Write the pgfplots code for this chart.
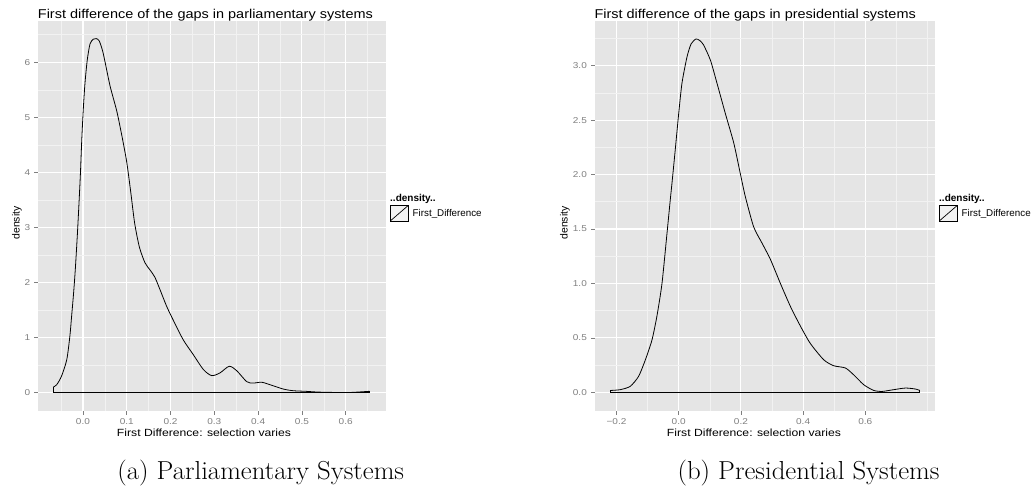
\documentclass[border=0pt]{standalone}
\usepackage{fontspec}
\newfontfamily\helv{Liberation Sans}
\usepackage{pgfplots}
\pgfplotsset{compat=1.18}
\definecolor{grey90}{HTML}{E5E5E5}
\definecolor{grey95}{HTML}{F2F2F2}
\definecolor{grey50}{HTML}{7F7F7F}
\pgfplotsset{gg/.style={
  scale only axis, anchor=south west,
  axis background/.style={fill=grey90},
  axis line style={draw=none},
  tick align=outside, tick pos=left,
  major tick length=4bp, minor tick length=0pt,
  tick style={grey50, line width=0.7bp},
  grid=both,
  major grid style={white, line width=1.1bp},
  minor grid style={grey95, line width=0.6bp},
  /pgf/number format/assume math mode=true,
  ticklabel style={font=\helv\fontsize{8.5bp}{10bp}\selectfont, text=grey50, xscale=1.18},
  legend style={at={(1,0.5066)}, anchor=west, xshift=4bp, draw=none, fill=none,
    inner sep=0pt, outer sep=0pt, font=\helv\fontsize{9.8bp}{11bp}\selectfont,
    nodes={inner sep=0pt}, /tikz/every odd column/.append style={column sep=4.3bp}},
  ggkey/.style={legend image code/.code={
    \draw[black,line width=0.7bp,fill=grey95] (0bp,-7.65bp) rectangle (17.7bp,7.65bp);
    \draw[black,line width=0.7bp] (0bp,-7.65bp)--(17.7bp,7.65bp);}},
}}
\begin{document}
\begin{tikzpicture}[x=1bp,y=1bp]
\useasboundingbox (0,0) rectangle (1034,492);
% ---------- left panel ----------
\begin{axis}[gg, at={(38.3bp,81.3bp)}, width=347.7bp, height=389.7bp,
  xmin=-0.102, xmax=0.692, ymin=-0.327, ymax=6.75,
  xtick={0,0.1,0.2,0.3,0.4,0.5,0.6}, xticklabels={0.0,0.1,0.2,0.3,0.4,0.5,0.6},
  ytick={0,1,2,3,4,5,6}, yticklabels={0,1,2,3,4,5,6},
  minor xtick={-0.05,0.05,0.15,0.25,0.35,0.45,0.55,0.65},
  minor ytick={0.5,1.5,2.5,3.5,4.5,5.5,6.5}]
\addplot[black, line width=0.8bp, smooth, tension=0.45, ggkey] coordinates {
(-0.068,0.10) (-0.060,0.145) (-0.049,0.30) (-0.037,0.60) (-0.030,1.02)
(-0.026,1.38) (-0.021,1.85) (-0.0171,2.29) (-0.0126,2.90) (-0.0087,3.50) (-0.0057,4.00)
(-0.0027,4.60) (0.0007,5.14) (0.0046,5.62) (0.0098,6.04) (0.016,6.33) (0.0235,6.42) (0.030,6.43)
(0.037,6.39) (0.046,6.17) (0.0616,5.58) (0.077,5.12) (0.088,4.70) (0.0997,4.20)
(0.109,3.65) (0.118,3.08) (0.129,2.64) (0.1416,2.36) (0.153,2.23) (0.164,2.10)
(0.176,1.87) (0.191,1.57) (0.206,1.32) (0.229,0.96) (0.252,0.69) (0.275,0.42)
(0.294,0.31) (0.313,0.36) (0.334,0.48) (0.351,0.40) (0.374,0.20) (0.389,0.175)
(0.408,0.19) (0.427,0.145) (0.457,0.067) (0.480,0.036) (0.511,0.024) (0.534,0.012)
(0.57,0.005) (0.61,0.004) (0.654,0.025)};
\addlegendentry{First\_Difference}
\addplot[black, line width=0.8bp, forget plot] coordinates {
(-0.068,0.10) (-0.068,0) (0.654,0) (0.654,0.025)};
\end{axis}
% ---------- right panel ----------
\begin{axis}[gg, at={(595bp,81.3bp)}, width=340bp, height=389.7bp,
  xmin=-0.269, xmax=0.824, ymin=-0.168, ymax=3.41,
  xtick={-0.2,0,0.2,0.4,0.6}, xticklabels={−0.2,0.0,0.2,0.4,0.6},
  ytick={0,0.5,1,1.5,2,2.5,3}, yticklabels={0.0,0.5,1.0,1.5,2.0,2.5,3.0},
  minor xtick={-0.1,0.1,0.3,0.5,0.7,0.8},
  minor ytick={0.25,0.75,1.25,1.75,2.25,2.75,3.25}]
\addplot[black, line width=0.8bp, smooth, tension=0.4, ggkey] coordinates {
(-0.218,0.018) (-0.188,0.025) (-0.156,0.055) (-0.129,0.147) (-0.107,0.30)
(-0.086,0.48) (-0.070,0.70) (-0.0537,1.00) (-0.0376,1.46) (-0.027,1.77)
(-0.0216,1.92) (-0.011,2.23) (0.0,2.56) (0.0106,2.84) (0.0267,3.08) (0.040,3.20)
(0.0556,3.245) (0.068,3.23) (0.080,3.19) (0.102,3.05) (0.123,2.84) (0.150,2.56)
(0.177,2.29) (0.198,2.01) (0.214,1.80) (0.241,1.52) (0.268,1.37)
(0.295,1.22) (0.327,1.00) (0.359,0.79) (0.391,0.61) (0.423,0.45) (0.466,0.30)
(0.498,0.245) (0.536,0.224) (0.563,0.16) (0.595,0.07) (0.627,0.018) (0.654,0.009)
(0.691,0.025) (0.729,0.04) (0.761,0.031) (0.775,0.018)};
\addlegendentry{First\_Difference}
\addplot[black, line width=0.8bp, forget plot] coordinates {
(-0.218,0.018) (-0.218,0) (0.775,0) (0.775,0.018)};
\end{axis}
% ---------- texts ----------
\node[anchor=base west, inner sep=0pt, xscale=1.13, font=\helv\fontsize{12.8bp}{15bp}\selectfont] at (37.7,473.7) {First difference of the gaps in parliamentary systems};
\node[anchor=base west, inner sep=0pt, xscale=1.13, font=\helv\fontsize{12.8bp}{15bp}\selectfont] at (594.3,473.7) {First difference of the gaps in presidential systems};
\node[anchor=base, inner sep=0pt, xscale=1.17, font=\helv\fontsize{10.4bp}{12bp}\selectfont] at (204,55.3) {First Difference: selection varies};
\node[anchor=base, inner sep=0pt, xscale=1.17, font=\helv\fontsize{10.4bp}{12bp}\selectfont] at (754,55.3) {First Difference: selection varies};
\node[rotate=90, inner sep=0pt, font=\helv\fontsize{10.4bp}{12bp}\selectfont] at (17,269) {density};
\node[rotate=90, inner sep=0pt, font=\helv\fontsize{10.4bp}{12bp}\selectfont] at (565,269) {density};
\node[anchor=base west, inner sep=0pt, font=\helv\bfseries\fontsize{10bp}{12bp}\selectfont] at (390,290.3) {..density..};
\node[anchor=base west, inner sep=0pt, font=\helv\bfseries\fontsize{10bp}{12bp}\selectfont] at (939,290.3) {..density..};
\node[anchor=base, inner sep=0pt, xscale=1.03, font=\fontsize{26bp}{30bp}\selectfont] at (260.7,12) {(a) Parliamentary Systems};
\node[anchor=base, inner sep=0pt, xscale=1.03, font=\fontsize{26bp}{30bp}\selectfont] at (808.5,12) {(b) Presidential Systems};
\end{tikzpicture}
\end{document}
